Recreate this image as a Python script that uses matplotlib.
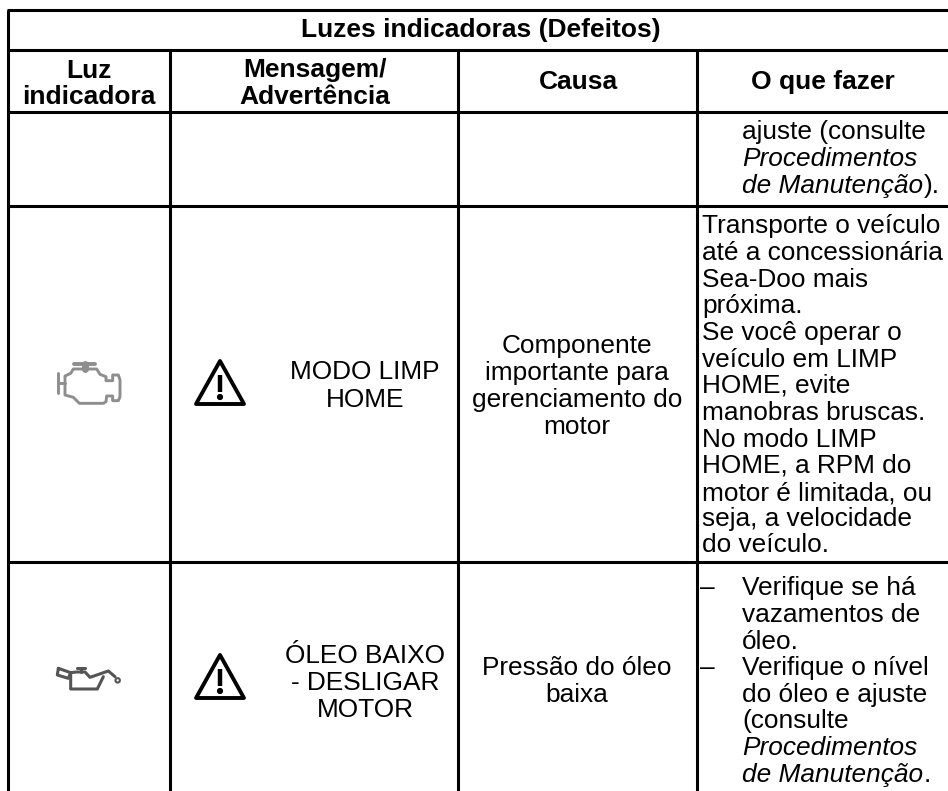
"""Warning lights table page, redrawn with matplotlib."""
import matplotlib
matplotlib.use("Agg")
import matplotlib.pyplot as plt
from matplotlib.patches import Circle, Polygon

plt.rcParams["font.family"] = ["Liberation Sans", "DejaVu Sans"]

W, H = 948, 791

title = "Luzes indicadoras (Defeitos)"
# header lines: text, centre x, baseline y
header_lines = [
    ("Luz", 89, 78), ("indicadora", 89, 104),
    ("Mensagem/", 315, 77), ("Advertência", 315, 104),
    ("Causa", 578, 89), ("O que fazer", 823, 89),
]
center_lines = [
    ("MODO LIMP", 365, 379), ("HOME", 365, 407),
    ("ÓLEO BAIXO", 365, 663), ("- DESLIGAR", 365, 690), ("MOTOR", 365, 717),
    ("Componente", 577, 353), ("importante para", 577, 380),
    ("gerenciamento do", 577, 407), ("motor", 577, 434),
    ("Pressão do óleo", 577, 675), ("baixa", 577, 702),
]
# left-aligned lines of the last column: text, x, baseline y
todo_lines = [
    ("ajuste (consulte", 742, 139),
    ("Transporte o veículo", 702, 233),
    ("até a concessionária", 702, 260),
    ("Sea-Doo mais", 702, 287),
    ("próxima.", 702, 313),
    ("Se você operar o", 702, 340),
    ("veículo em LIMP", 702, 367),
    ("HOME, evite", 702, 393),
    ("manobras bruscas.", 702, 420),
    ("No modo LIMP", 702, 447),
    ("HOME, a RPM do", 702, 473),
    ("motor é limitada, ou", 702, 500),
    ("seja, a velocidade", 702, 526),
    ("do veículo.", 702, 552),
    ("Verifique se há", 742, 595),
    ("vazamentos de", 742, 622),
    ("óleo.", 742, 649),
    ("Verifique o nível", 742, 675),
    ("do óleo e ajuste", 742, 702),
    ("(consulte", 742, 728),
]
# italic start, plain tail
italic_lines = [
    ("Procedimentos", "", 742, 166),
    ("de Manutenção", ").", 742, 193),
    ("Procedimentos", "", 742, 755),
    ("de Manutenção", ".", 742, 782),
]
dash_ys = [595, 675]

row_ys = [10, 50, 112, 206, 562]
col_xs = [170, 458, 697]
triangle_bases = [406, 700]

engine_body = [(75, 125), (75, 108), (92, 100), (100, 87), (170, 87), (180, 103), (198, 110),
               (198, 122), (218, 122), (218, 105), (235, 105), (240, 120), (240, 170),
               (235, 182), (218, 182), (218, 168), (200, 168), (198, 185), (190, 190),
               (118, 190), (100, 172), (75, 165), (75, 130)]
oil_box = [(55, 145), (92, 158), (85, 175), (52, 165), (55, 145)]
oil_body = [(92, 158), (92, 207), (172, 207), (190, 170)]
oil_top = [(92, 158), (110, 156), (135, 156), (150, 172), (205, 153), (225, 170)]

fig = plt.figure(figsize=(W / 100, H / 100), dpi=100)
ax = fig.add_axes([0, 0, 1, 1])
ax.set_xlim(0, W)
ax.set_ylim(H, 0)
ax.axis("off")

LW = 2.2
BODY = 18.9
HEAD = 19.0

for y in row_ys:
    ax.plot([7, W], [y, y], color="k", lw=LW, solid_capstyle="butt")
ax.plot([8, 8], [10, H], color="k", lw=LW, solid_capstyle="butt")
for x in col_xs:
    ax.plot([x, x], [50, H], color="k", lw=LW, solid_capstyle="butt")

ax.text(481, 37, title, ha="center", va="baseline", fontsize=HEAD, weight="bold")
for txt, x, y in header_lines:
    ax.text(x, y, txt, ha="center", va="baseline", fontsize=HEAD, weight="bold")
for txt, x, y in center_lines:
    ax.text(x, y, txt, ha="center", va="baseline", fontsize=BODY)
for txt, x, y in todo_lines:
    ax.text(x, y, txt, ha="left", va="baseline", fontsize=BODY)
for y in dash_ys:
    ax.text(700, y, "–", ha="left", va="baseline", fontsize=BODY)

renderer = fig.canvas.get_renderer()
for txt, tail, x, y in italic_lines:
    t = ax.text(x, y, txt, ha="left", va="baseline", fontsize=BODY, style="italic")
    if tail:
        # plain punctuation continues right after the italic run
        x1 = ax.transData.inverted().transform(t.get_window_extent(renderer).corners()[-1])[0]
        ax.text(x1 + 1, y, tail, ha="left", va="baseline", fontsize=BODY)


def warning_triangle(cx, base_y):
    ax.add_patch(Polygon([(cx - 24, base_y - 2), (cx + 24, base_y - 2), (cx, base_y - 45)],
                         closed=True, fc="white", ec="k", lw=2.8, joinstyle="round"))
    ax.plot([cx, cx], [base_y - 31, base_y - 14], color="k", lw=3.2, solid_capstyle="butt")
    ax.add_patch(Circle((cx, base_y - 9), 2.4, color="k"))


for base in triangle_bases:
    warning_triangle(220, base)


def icon_line(pts, x0, y0, color, lw):
    ax.plot([x0 + p[0] / 3 for p in pts], [y0 + p[1] / 3 for p in pts], color=color, lw=lw,
            solid_joinstyle="round", solid_capstyle="round")


GREY = "#8e8e8e"
icon_line(engine_body, 40, 340, GREY, 2.1)
icon_line([(55, 100), (55, 160)], 40, 340, GREY, 2.1)
icon_line([(55, 130), (75, 130)], 40, 340, GREY, 2.1)
icon_line([(102, 73), (165, 73)], 40, 340, GREY, 2.8)
icon_line([(135, 73), (135, 87)], 40, 340, GREY, 5)

OIL = "#555555"
icon_line(oil_box, 40, 620, OIL, 2.2)
icon_line(oil_body, 40, 620, OIL, 2.2)
icon_line(oil_top, 40, 620, OIL, 2.2)
icon_line([(110, 145), (135, 145)], 40, 620, OIL, 2.2)
icon_line([(122, 145), (122, 157)], 40, 620, OIL, 2.2)
ax.add_patch(Circle((40 + 233 / 3, 620 + 181 / 3), 2.2, fc="white", ec=OIL, lw=1.5))

fig.savefig("out.png", dpi=100)
